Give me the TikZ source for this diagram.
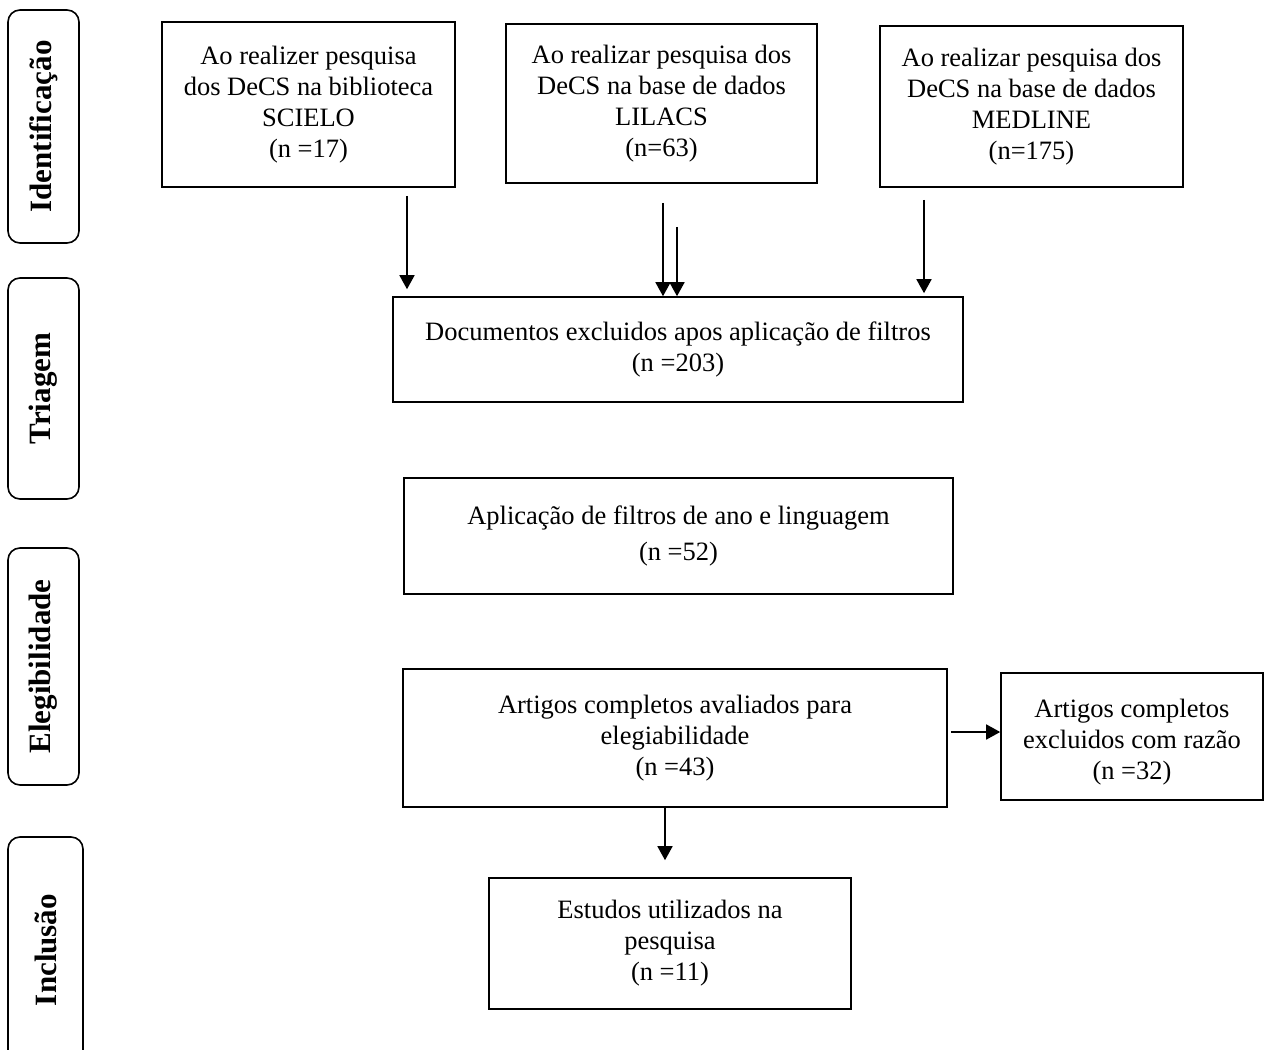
\documentclass[tikz,border=0pt]{standalone}
\usepackage{fontspec}
\setmainfont{Liberation Serif}
\usetikzlibrary{arrows.meta}
\tikzset{
  mainbox/.style={draw, line width=1.6pt, inner sep=0pt, align=center,
    font=\fontsize{26.5}{31}\selectfont},
  sidebox/.style={draw, line width=1.6pt, rounded corners=12pt, inner sep=0pt,
    rotate=90, minimum height=71pt, font=\fontsize{31}{34}\selectfont\bfseries},
  arr/.style={line width=1.6pt, -{Triangle[width=15pt,length=14pt]}}
}
\begin{document}
\begin{tikzpicture}[x=1pt,y=-1pt]
\useasboundingbox (0,0) rectangle (1270,1050);
% phase labels
\node[sidebox, minimum width=233pt] (sid1) at (43.5,126.5) {Identificação};
\node[sidebox, minimum width=221pt] (sid2) at (43.5,388.5) {Triagem};
\node[sidebox, minimum width=237pt] (sid3) at (43.5,666.5) {Elegibilidade};
\begin{scope}
\clip (0,0) rectangle (1270,1050);
\node[sidebox, minimum width=226pt, minimum height=75pt] (sid4) at (45.5,950) {Inclusão};
\end{scope}
% main boxes
\node[mainbox, minimum width=293pt, minimum height=165pt] (scielo) at (308.5,104.5)
  {Ao realizer pesquisa\\dos DeCS na biblioteca\\SCIELO\\(n =17)};
\node[mainbox, minimum width=311pt, minimum height=159pt] (lilacs) at (661.5,103.5)
  {Ao realizar pesquisa dos\\DeCS na base de dados\\LILACS\\(n=63)};
\node[mainbox, minimum width=303pt, minimum height=161pt] (medline) at (1031.5,106.5)
  {Ao realizar pesquisa dos\\DeCS na base de dados\\MEDLINE\\(n=175)};
\node[mainbox, minimum width=570pt, minimum height=105pt] (docs) at (678,349.5)
  {Documentos excluidos apos aplicação de filtros\\(n =203)};
\node[mainbox, minimum width=549pt, minimum height=116pt] (aplic) at (678.5,536)
  {Aplicação de filtros de ano e linguagem\\[5pt](n =52)};
\node[mainbox, minimum width=544pt, minimum height=138pt] (artigos) at (675,738)
  {Artigos completos avaliados para\\elegiabilidade\\(n =43)};
\node[mainbox, minimum width=262pt, minimum height=127pt] (excl) at (1132,736.5) {};
\node[align=center, inner sep=0pt, font=\fontsize{26.5}{31}\selectfont] (excltxt) at (1132,742)
  {Artigos completos\\excluidos com razão\\(n =32)};
\node[mainbox, minimum width=362pt, minimum height=131pt] (estudos) at (670,943.5)
  {Estudos utilizados na\\pesquisa\\(n =11)};
% connectors
\draw[arr] ([yshift=-8pt]scielo.south -| 407,0) -- ([yshift=7pt]docs.north -| 407,0);
\draw[arr] ([yshift=-19pt]lilacs.south -| 663,0) -- (docs.north -| 663,0);
\draw[arr] ([yshift=-43pt]lilacs.south -| 677,0) -- (docs.north -| 677,0);
\draw[arr] ([yshift=-12pt]medline.south -| 924,0) -- ([yshift=3pt]docs.north -| 924,0);
\draw[arr] ([xshift=3pt]artigos.east |- 0,732) -- (excl.west |- 0,732);
\draw[arr] (artigos.south -| 665,0) -- ([yshift=17pt]estudos.north -| 665,0);
\end{tikzpicture}
\end{document}
